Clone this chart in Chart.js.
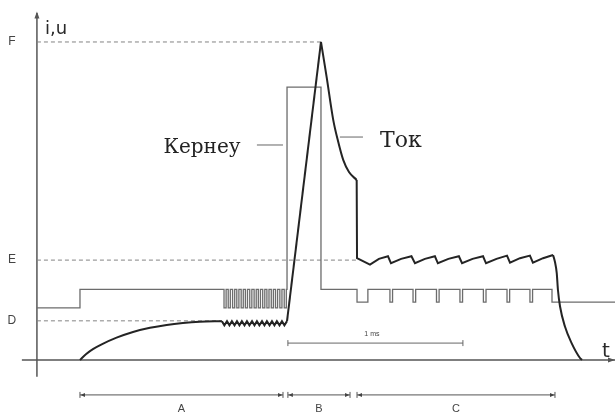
<!DOCTYPE html>
<html>
<head>
<meta charset="utf-8">
<script src="https://cdn.jsdelivr.net/npm/chart.js@4"></script>
<style>
  html, body { margin: 0; padding: 0; background: #fff; }
  #wrap { width: 615px; height: 414px; }
</style>
</head>
<body>
<div id="wrap"><canvas id="diagram"></canvas></div>
<script>
// time axis: 1 unit = 10 us (the "1 ms" bar is 100 units), amplitude: F = 100
var tMin = -21.1, tMax = 330.3;
var aMin = -17.0, aMax = 113.2;

// reference levels
var levelF = 100, levelE = 31.4, levelD = 12.3;

// current i(t), piece by piece [t, i]
var currentRise = [[24.6,0],[28.0,1.8],[32.0,3.4],[37.0,4.9],[45.5,7.0],[54.9,8.8],[64.6,10.1],[74.1,11.0],[83.4,11.6],[93.1,12.0],[105.7,12.2]];
var currentRipple = [[105.7,12.2],[107.1,10.9],[108.6,12.2],[110.0,10.9],[111.4,12.2],[112.9,10.9],[114.3,12.2],[115.7,10.9],
  [117.1,12.2],[118.6,10.9],[120.0,12.2],[121.4,10.9],[122.9,12.2],[124.3,10.9],[125.7,12.2],[127.1,10.9],[128.6,12.2],
  [130.0,10.9],[131.4,12.2],[132.9,10.9],[134.3,12.2],[135.7,10.9],[137.1,12.2],[138.6,10.9],[140.0,12.2],[141.4,10.9],[142.9,12.2]];
var currentSpike = [[142.9,12.2],[162.3,100]];
var currentDecay = [[162.3,100],[165.5,89.1],[169.3,75.5],[172.0,68.9],[175.0,62.9],[178.3,59.1],[182.7,56.6]];
var currentPulses = [[182.7,56.6],[182.9,32.0],[190.3,30.0],[195.4,31.8],[200.6,32.6],[202.3,30.4],[208.1,31.8],[214.0,32.6],
  [216.0,30.4],[221.7,31.8],[227.4,32.6],[229.1,30.4],[235.1,31.8],[241.1,32.6],[242.9,30.4],[248.9,31.8],[254.9,32.6],
  [256.6,30.4],[262.6,31.8],[268.6,32.8],[270.3,30.6],[276.0,32.0],[281.7,32.8],[283.4,30.6],[289.2,32.0],[294.9,33.0]];
var currentFall = [[294.9,33.0],[296.0,30.8],[297.0,27.4],[297.7,22.0],[298.9,16.8],[301.7,10.5],[305.5,5.3],[310.3,0.6],[311.4,0]];

// voltage u(t)
var uBase = 16.4, uHigh = 22.2, uPulse = 85.8, uDip = 18.2;
var burstStart = [106.9,109.3,111.8,114.2,116.7,119.1,121.6,124.1,126.5,129.0,131.4,133.9,136.3,138.8,141.3];
var burstEnd   = [108.1,110.5,113.0,115.4,117.9,120.3,122.8,125.3,127.7,130.2,132.6,135.1,137.5,140.0,142.5];
var notchStart = [182.9,201.7,214.9,228.3,241.7,255.1,268.6,281.7];
var notchEnd   = [189.1,203.2,216.4,229.8,243.2,256.6,270.1,283.2];
var tStep = 24.6, tB = 142.9, tBEnd = 162.3, tC = 182.9, tOff = 294.3;

// bottom spans A, B, C and the 1 ms bar
var spanNames = ['A','B','C'];
var spanStart = [24.6,143.4,182.9];
var spanEnd   = [140.6,178.9,296.0];
var msBar = [143.4,243.4];

function xy(arr) { return arr.map(function (p) { return {x: p[0], y: p[1]}; }); }

function pulses(hi, lo, starts, ends) {
  var pts = [];
  for (var i = 0; i < starts.length; i++) {
    pts.push([starts[i],hi],[starts[i],lo],[ends[i],lo],[ends[i],hi]);
  }
  return pts;
}

var voltage = [[0,uBase],[tStep,uBase],[tStep,uHigh]]
  .concat(pulses(uHigh, uBase, burstStart, burstEnd))
  .concat([[tB,uHigh],[tB,uPulse],[tBEnd,uPulse],[tBEnd,uHigh]])
  .concat(pulses(uHigh, uDip, notchStart, notchEnd))
  .concat([[tOff,uHigh],[tOff,uDip],[tMax,uDip]]);

var curColor = '#242424', volColor = '#6c6c6c', dashColor = '#838383', axisColor = '#555';

function curve(data, mono) {
  return { data: xy(data), borderColor: curColor, borderWidth: 2, pointRadius: 0,
    showLine: true, fill: false, tension: 0, cubicInterpolationMode: mono ? 'monotone' : 'default' };
}
function plain(data, color, width, dash) {
  return { data: xy(data), borderColor: color, borderWidth: width, pointRadius: 0,
    showLine: true, fill: false, tension: 0, borderDash: dash || [] };
}

var extras = {
  id: 'extras',
  afterDatasetsDraw: function (chart) {
    var c = chart.ctx, sx = chart.scales.x, sy = chart.scales.y;
    var X = function (v) { return sx.getPixelForValue(v); };
    var Y = function (v) { return sy.getPixelForValue(v); };
    c.save();
    // axis arrow heads
    c.fillStyle = axisColor;
    c.beginPath();
    c.moveTo(X(0), Y(109.6)); c.lineTo(X(0) - 2.5, Y(109.6) + 7); c.lineTo(X(0) + 2.5, Y(109.6) + 7);
    c.closePath(); c.fill();
    c.beginPath();
    c.moveTo(X(tMax), Y(0)); c.lineTo(X(tMax) - 7, Y(0) - 2.5); c.lineTo(X(tMax) - 7, Y(0) + 2.5);
    c.closePath(); c.fill();

    // leader lines of the labels
    c.strokeStyle = '#666'; c.lineWidth = 1;
    c.beginPath();
    c.moveTo(X(125.7), Y(67.6)); c.lineTo(X(140.6), Y(67.6));
    c.moveTo(X(173.1), Y(70.1)); c.lineTo(X(186.3), Y(70.1));
    c.stroke();

    // spans with arrow ends
    var yb = Y(-11.0);
    c.strokeStyle = '#555'; c.fillStyle = '#444'; c.lineWidth = 1;
    for (var i = 0; i < spanNames.length; i++) {
      var a = X(spanStart[i]), b = X(spanEnd[i]);
      c.beginPath(); c.moveTo(a, yb); c.lineTo(b, yb);
      c.moveTo(a, yb - 3); c.lineTo(a, yb + 3);
      c.moveTo(b, yb - 3); c.lineTo(b, yb + 3);
      c.stroke();
      c.beginPath(); c.moveTo(a + 0.5, yb); c.lineTo(a + 5, yb - 2); c.lineTo(a + 5, yb + 2); c.closePath(); c.fill();
      c.beginPath(); c.moveTo(b - 0.5, yb); c.lineTo(b - 5, yb - 2); c.lineTo(b - 5, yb + 2); c.closePath(); c.fill();
    }
    // 1 ms bar
    var ym = Y(5.3);
    c.strokeStyle = '#666';
    c.beginPath();
    c.moveTo(X(msBar[0]), ym); c.lineTo(X(msBar[1]), ym);
    c.moveTo(X(msBar[0]), ym - 3); c.lineTo(X(msBar[0]), ym + 3);
    c.moveTo(X(msBar[1]), ym - 3); c.lineTo(X(msBar[1]), ym + 3);
    c.stroke();

    // texts
    c.textAlign = 'center'; c.textBaseline = 'middle';
    c.fillStyle = '#444'; c.font = '12px "Liberation Sans", Arial, sans-serif';
    c.fillText('F', X(-14.3), Y(levelF));
    c.fillText('E', X(-14.3), Y(levelE));
    c.fillText('D', X(-14.3), Y(levelD));
    c.font = '11px "Liberation Sans", Arial, sans-serif';
    for (var k = 0; k < spanNames.length; k++) {
      c.fillText(spanNames[k], X((spanStart[k] + spanEnd[k]) / 2), Y(-15.4));
    }
    c.font = '7px "Liberation Sans", Arial, sans-serif';
    c.fillText('1 ms', X(191.4), Y(8.2));
    c.fillStyle = '#2a2a2a';
    c.textBaseline = 'alphabetic';
    c.textAlign = 'left';
    c.font = '18px "DejaVu Sans", sans-serif';
    c.fillText('i,u', X(4.6), Y(102.5));
    c.textAlign = 'center';
    c.font = '20px "DejaVu Sans", sans-serif';
    c.fillText('t', X(325.1), Y(0.9));
    c.fillStyle = '#222';
    c.font = '20px "DejaVu Serif", serif';
    c.fillText('Кернеу', X(94.3), Y(65.1));
    c.font = '22px "DejaVu Serif", serif';
    c.fillText('Ток', X(208.0), Y(67.1));
    c.restore();
  }
};

new Chart(document.getElementById('diagram'), {
  type: 'scatter',
  data: {
    datasets: [
      curve(currentRise, true),
      curve(currentRipple, false),
      curve(currentSpike, false),
      curve(currentDecay, true),
      curve(currentPulses, false),
      curve(currentFall, true),
      plain(voltage, volColor, 1.3),
      plain([[0,levelF],[tBEnd,levelF]], dashColor, 1, [4,3]),
      plain([[0,levelE],[tC,levelE]], dashColor, 1, [4,3]),
      plain([[0,levelD],[105.7,levelD]], dashColor, 1, [4,3]),
      plain([[-8.6,0],[tMax,0]], axisColor, 1.5),
      plain([[0,-5.3],[0,109.1]], axisColor, 1.5)
    ]
  },
  options: {
    responsive: true,
    maintainAspectRatio: false,
    animation: false,
    layout: { padding: 0 },
    plugins: { legend: { display: false }, tooltip: { enabled: false } },
    scales: {
      x: { type: 'linear', display: false, min: tMin, max: tMax },
      y: { type: 'linear', display: false, min: aMin, max: aMax }
    }
  },
  plugins: [extras]
});
</script>
</body>
</html>
